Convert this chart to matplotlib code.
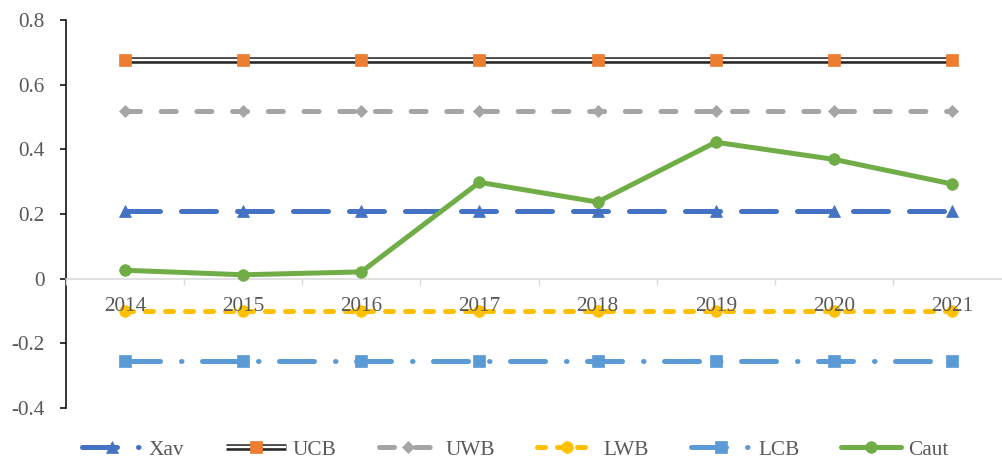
import matplotlib.pyplot as plt
from matplotlib.lines import Line2D
from matplotlib.legend_handler import HandlerTuple

plt.rcParams["font.family"] = ["Liberation Serif", "DejaVu Serif"]

# data
years = ["2014", "2015", "2016", "2017", "2018", "2019", "2020", "2021"]
xav = [0.208, 0.208, 0.208, 0.208, 0.208, 0.208, 0.208, 0.208]
ucb = [0.675, 0.675, 0.675, 0.675, 0.675, 0.675, 0.675, 0.675]
uwb = [0.520, 0.520, 0.520, 0.520, 0.520, 0.520, 0.520, 0.520]
lwb = [-0.101, -0.101, -0.101, -0.101, -0.101, -0.101, -0.101, -0.101]
lcb = [-0.256, -0.256, -0.256, -0.256, -0.256, -0.256, -0.256, -0.256]
caut = [0.026, 0.012, 0.021, 0.298, 0.237, 0.422, 0.369, 0.293]

y_ticks = [-0.4, -0.2, 0, 0.2, 0.4, 0.6, 0.8]
y_labels = ["-0.4", "-0.2", "0", "0.2", "0.4", "0.6", "0.8"]

BLUE = "#4472C4"
ORANGE = "#ED7D31"
GREY = "#A5A5A5"
YELLOW = "#FFC000"
LBLUE = "#5B9BD5"
GREEN = "#70AD47"
TXT = "#595959"
LW = 3.6
FS = 15.3

# styles shared by chart lines and legend proxies (dash units = linewidths)
styles = {
    "Xav": dict(color=BLUE, lw=LW, dashes=(7.0, 4.2), dash_capstyle="round",
                marker="^", ms=8.8, mew=0.5),
    "UWB": dict(color=GREY, lw=LW, dashes=(3.0, 4.14), dash_capstyle="round",
                marker="D", ms=6.2, mew=0.5),
    "LWB": dict(color=YELLOW, lw=LW, dashes=(1.6, 2.4), dash_capstyle="round",
                marker="o", ms=8.4, mew=0.5),
    "LCB": dict(color=LBLUE, lw=LW, dashes=(7.0, 4.2, 0.1, 4.1), dash_capstyle="round",
                marker="s", ms=8.8, mew=0.5),
    "Caut": dict(color=GREEN, lw=LW, solid_capstyle="round",
                 marker="o", ms=8.4, mew=0.5),
}

fig = plt.figure(figsize=(10.02, 4.61), dpi=100)
ax = fig.add_axes([66 / 1002, 53 / 461, 945 / 1002, 388 / 461])
x = list(range(len(years)))

ax.plot(x, xav, zorder=3, **styles["Xav"])

# UCB: double line (black with white core) + orange squares
ax.plot(x, ucb, color="#262626", lw=4.7, solid_capstyle="butt", zorder=3)
ax.plot(x, ucb, color="white", lw=1.7, solid_capstyle="butt", zorder=3)
ax.plot(x, ucb, ls="none", marker="s", ms=8.8, mew=0.5, color=ORANGE, zorder=3)

ax.plot(x, uwb, zorder=3, **styles["UWB"])
ax.plot(x, lwb, zorder=3, **styles["LWB"])
ax.plot(x, lcb, zorder=3, **styles["LCB"])
ax.plot(x, caut, zorder=3.5, **styles["Caut"])

ax.set_xlim(-0.5, len(years) - 0.5)
ax.set_ylim(-0.4, 0.8)

ax.set_xticks(x)
ax.set_xticklabels(years)
ax.set_xticks([i - 0.5 for i in range(len(years) + 1)], minor=True)
ax.tick_params(axis="x", which="major", length=0, pad=13, labelcolor=TXT, labelsize=FS)
ax.tick_params(axis="x", which="minor", length=4.3, width=1, color="#D9D9D9", direction="out")

ax.set_yticks(y_ticks)
ax.set_yticklabels(y_labels)
ax.tick_params(axis="y", length=4.3, width=1.1, color="black", pad=11, labelcolor=TXT, labelsize=FS)

ax.spines["top"].set_visible(False)
ax.spines["right"].set_visible(False)
ax.spines["left"].set_color("black")
ax.spines["left"].set_linewidth(1.1)
ax.spines["bottom"].set_position(("data", 0))
ax.spines["bottom"].set_color("#D9D9D9")
ax.spines["bottom"].set_linewidth(1.1)
ax.xaxis.set_zorder(5)

# legend proxies
h_xav = Line2D([], [], color=BLUE, lw=LW, dashes=(7.0, 4.2, 0.1, 20), dash_capstyle="round",
               marker="^", ms=8.8, mew=0.5)
h_ucb = (
    Line2D([], [], color="#262626", lw=4.7, solid_capstyle="butt"),
    Line2D([], [], color="white", lw=1.7, solid_capstyle="butt"),
    Line2D([], [], ls="none", marker="s", ms=8.8, mew=0.5, color=ORANGE),
)
h_uwb = Line2D([], [], **styles["UWB"])
h_lwb = Line2D([], [], **styles["LWB"])
h_lcb = Line2D([], [], **styles["LCB"])
h_caut = Line2D([], [], **styles["Caut"])

fig.legend(
    [h_xav, h_ucb, h_uwb, h_lwb, h_lcb, h_caut],
    ["Xav", "UCB", "UWB", "LWB", "LCB", "Caut"],
    handler_map={tuple: HandlerTuple(ndivide=1, pad=0)},
    loc="center",
    bbox_to_anchor=(0.514, 0.024),
    ncol=6,
    frameon=False,
    fontsize=FS,
    handlelength=2.82,
    handletextpad=0.33,
    columnspacing=1.97,
    labelcolor=TXT,
)

fig.savefig("out.png", dpi=100)
